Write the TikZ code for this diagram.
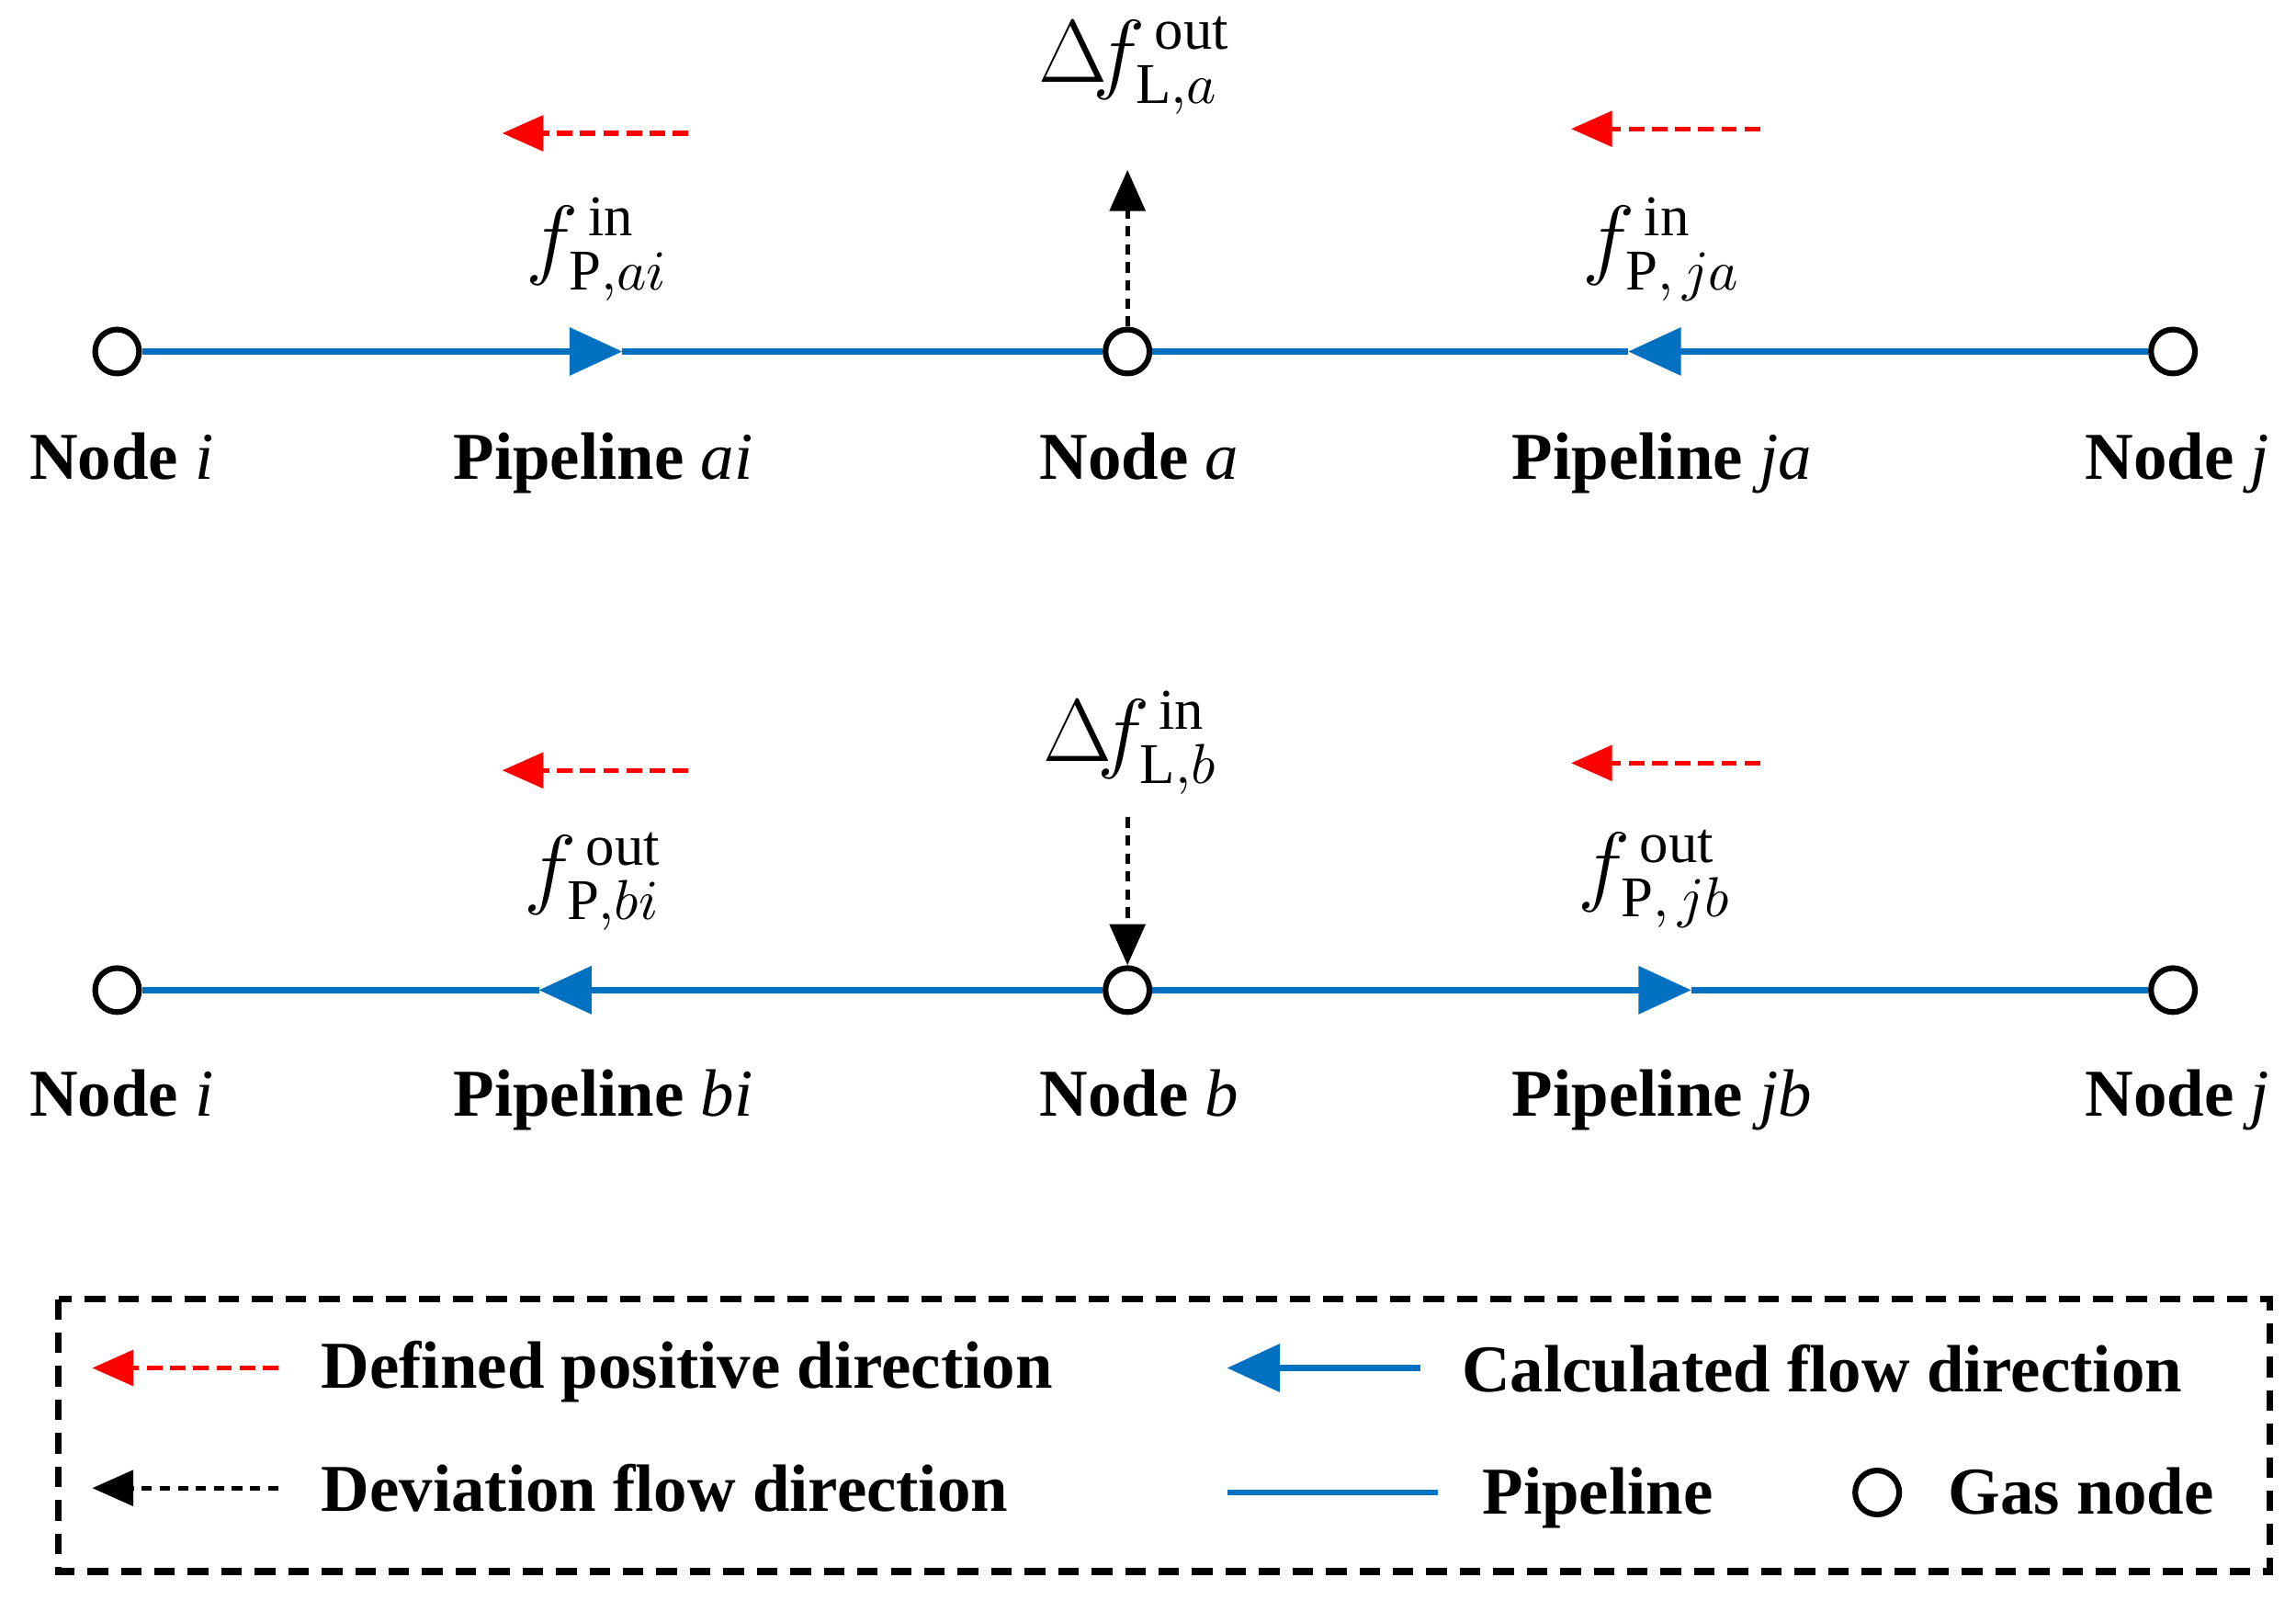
\documentclass[tikz,border=0pt]{standalone}
\usepackage{fontspec}
\setmainfont{Liberation Serif}
\usetikzlibrary{arrows.meta}
\definecolor{pblue}{RGB}{0,112,192}
\newcommand{\vi}[1]{\textnormal{\itshape #1}}
\begin{document}
\begin{tikzpicture}[x=0.01cm,y=-0.01cm,
  gnode/.style={circle,draw,line width=1.1pt,minimum size=0.3cm,inner sep=0pt,fill=white},
  pipe/.style={pblue,line width=1.2pt},
  flow/.style={pipe,-{Stealth[length=0.36cm,width=0.32cm,inset=0pt]}},
  posdir/.style={red,dash pattern=on 3pt off 1.5pt,line width=0.9pt,-{Stealth[length=0.28cm,width=0.24cm,inset=0pt]}},
  dev/.style={black,dash pattern=on 2pt off 1.5pt,line width=0.9pt,-{Stealth[length=0.28cm,width=0.24cm,inset=0pt]}},
  lab/.style={font=\fontsize{13}{14}\selectfont\bfseries,anchor=base},
  ml/.style={font=\fontsize{16}{18}\selectfont}]
\useasboundingbox (0,0) rectangle (1568,1092);
% top
\coordinate (ma) at (425,240); \coordinate (mj) at (1112,240);
\node[gnode] (ni1) at (80,240) {};
\node[gnode] (na) at (770,240) {};
\node[gnode] (nj1) at (1484,240) {};
\draw[flow] (ni1) -- (ma); \draw[pipe] (ma) -- (na);
\draw[flow] (nj1) -- (mj); \draw[pipe] (mj) -- (na);
\node[lab] at (83,327) {Node \vi{i}};
\node[lab] at (412,327) {Pipeline \vi{ai}};
\node[lab] at (778,327) {Node \vi{a}};
\node[lab] at (1135,327) {Pipeline \vi{ja}};
\node[lab] at (1487,327) {Node \vi{j}};
\node[ml] (fa) at (408,170) {$f^{\,\mathrm{in}}_{\mathrm{P},ai}$};
\node[ml] (fj) at (1135,170) {$f^{\,\mathrm{in}}_{\mathrm{P},\,ja}$};
\coordinate (r1s) at (470,91); \coordinate (r1e) at (343,91);
\coordinate (r2s) at (1202,88); \coordinate (r2e) at (1073,88);
\draw[posdir] (r1s) -- (r1e); \draw[posdir] (r2s) -- (r2e);
\coordinate (da) at (770,116);
\draw[dev] (na) -- (da);
\node[ml] at (775,45) {$\Delta\! f^{\,\mathrm{out}}_{\mathrm{L},a}$};
% bottom
\coordinate (mb) at (368,676); \coordinate (mjb) at (1155,676);
\node[gnode] (ni2) at (80,676) {};
\node[gnode] (nb) at (770,676) {};
\node[gnode] (nj2) at (1484,676) {};
\draw[flow] (nb) -- (mb); \draw[pipe] (mb) -- (ni2);
\draw[flow] (nb) -- (mjb); \draw[pipe] (mjb) -- (nj2);
\node[lab] at (83,762) {Node \vi{i}};
\node[lab] at (412,762) {Pipeline \vi{bi}};
\node[lab] at (778,762) {Node \vi{b}};
\node[lab] at (1135,762) {Pipeline \vi{jb}};
\node[lab] at (1487,762) {Node \vi{j}};
\node[ml] at (405,602) {$f^{\,\mathrm{out}}_{\mathrm{P},bi}$};
\node[ml] at (1130,600) {$f^{\,\mathrm{out}}_{\mathrm{P},\,jb}$};
\coordinate (r3s) at (470,526); \coordinate (r3e) at (343,526);
\coordinate (r4s) at (1202,521); \coordinate (r4e) at (1073,521);
\draw[posdir] (r3s) -- (r3e); \draw[posdir] (r4s) -- (r4e);
\coordinate (db) at (770,558);
\draw[dev] (db) -- (nb);
\node[ml] at (772,507) {$\Delta\! f^{\,\mathrm{in}}_{\mathrm{L},b}$};
% legend
\draw[line width=1.3pt,dash pattern=on 4pt off 2.5pt] (40,887) rectangle (1550,1073);
\coordinate (l1s) at (190,934); \coordinate (l1e) at (63,934);
\draw[posdir] (l1s) -- (l1e);
\node[lab,anchor=base west] at (207,948) {Defined positive direction};
\coordinate (l2s) at (190,1016); \coordinate (l2e) at (63,1016);
\draw[dev] (l2s) -- (l2e);
\node[lab,anchor=base west] at (207,1032) {Deviation flow direction};
\coordinate (l3s) at (970,934); \coordinate (l3e) at (838,934);
\draw[flow] (l3s) -- (l3e);
\node[lab,anchor=base west] at (986,950) {Calculated flow direction};
\coordinate (l4s) at (838,1019); \coordinate (l4e) at (982,1019);
\draw[pipe] (l4s) -- (l4e);
\node[lab,anchor=base west] at (1000,1034) {Pipeline};
\node[gnode] (lg) at (1282,1019) {};
\node[lab,anchor=base west] at (1318,1034) {Gas node};
\end{tikzpicture}
\end{document}
